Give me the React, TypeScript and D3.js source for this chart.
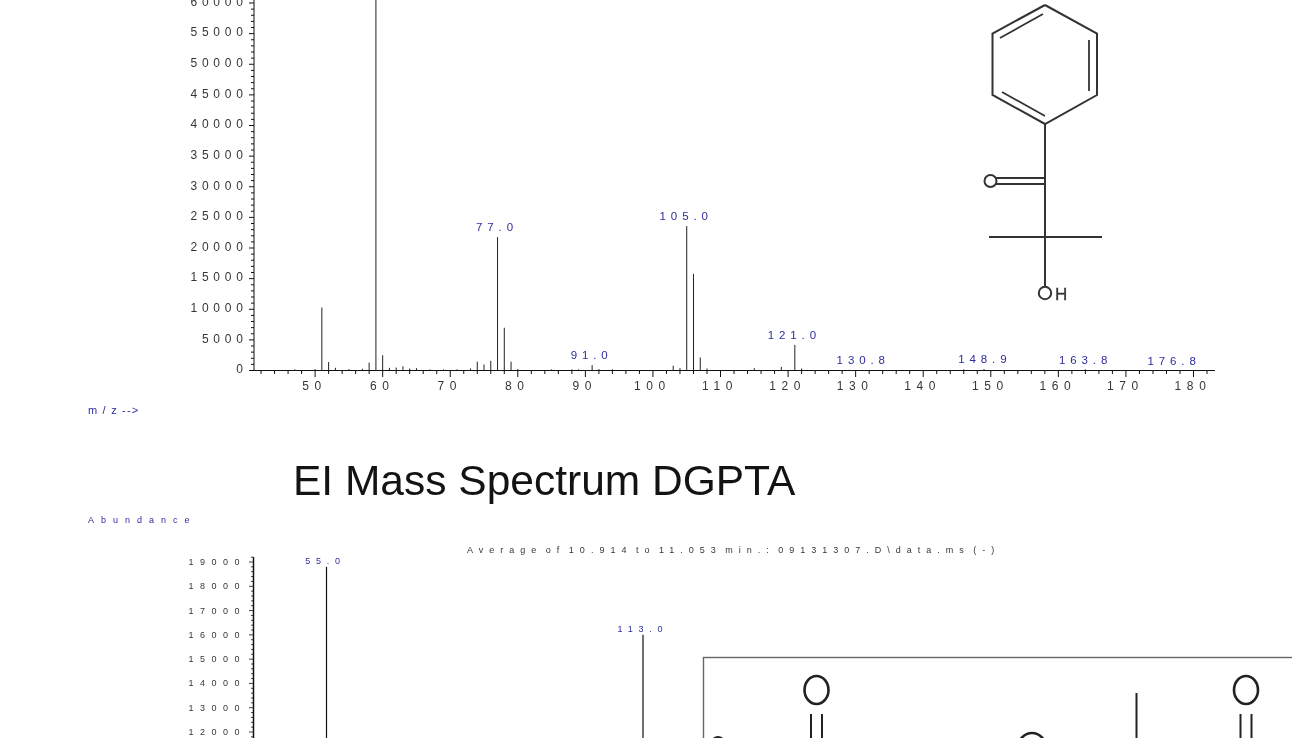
import { useEffect, useRef } from 'react'
import * as d3 from 'd3'

// top spectrum (m/z, abundance)
const topMz = [47, 50, 51, 52, 53, 55, 57, 58, 59, 60, 61, 62, 63, 64, 65, 67, 69, 71, 73, 74, 75, 76, 77, 78, 79, 80, 85, 88, 89, 91, 92, 94, 103, 104, 105, 106, 107, 108, 115, 119, 121, 122, 146, 149, 164]
const topAbundance = [100, 150, 10200, 1300, 350, 150, 200, 1200, 62000, 2400, 350, 400, 600, 250, 300, 100, 100, 100, 250, 1350, 900, 1500, 21700, 6900, 1350, 150, 100, 100, 100, 800, 150, 100, 700, 300, 23500, 15700, 2050, 250, 300, 500, 4100, 250, 100, 150, 100]
const topPeakLabels = ['77.0', '105.0', '91.0', '121.0', '130.8', '148.9', '163.8', '176.8']
const topPeakMz = [77, 105, 91, 121, 131.2, 149.2, 164.1, 177.2]
const topPeakLevel = [21700, 23500, 800, 4100, 0, 150, 0, -100]
const topYTicks = d3.range(0, 60001, 5000)
const topXTicks = d3.range(50, 181, 10)

// bottom spectrum, only the part above the page edge is visible
const bottomMz = [55, 113]
const bottomAbundance = [18800, 16000]
const bottomPeakLabels = ['55.0', '113.0']
const bottomYTicks = d3.range(12000, 19001, 1000)

const navy = '#2a2a9c'
const grey = '#333'
const font = '"Liberation Sans", Arial, sans-serif'

const App = () => {
  const svgRef = useRef<SVGSVGElement>(null)

  useEffect(() => {
    const svg = d3.select(svgRef.current)
    svg.selectAll('*').remove()

    const addText = (x: number, y: number, t: string, size: number, spacing: number, fill: string, anchor = 'start') =>
      svg.append('text')
        .attr('x', x).attr('y', y)
        .attr('text-anchor', anchor)
        .attr('font-family', font)
        .attr('font-size', size)
        .attr('letter-spacing', spacing)
        .attr('fill', fill)
        .attr('opacity', 0.99)
        .text(t)

    const line = (x1: number, y1: number, x2: number, y2: number, w = 1, color = '#111', parent: any = svg) =>
      parent.append('line')
        .attr('x1', x1).attr('y1', y1).attr('x2', x2).attr('y2', y2)
        .attr('stroke', color).attr('stroke-width', w)

    // --- top spectrum ---
    const x = d3.scaleLinear().domain([50, 180]).range([314.6, 1193])
    const y = d3.scaleLinear().domain([0, 60000]).range([370, 2.5])

    line(254, 0, 254, 370.5)
    line(254, 370.5, 1215, 370.5)

    d3.range(0, 62000, 1000).forEach((v) => {
      line(v % 5000 === 0 ? 249 : 251, y(v) + 0.5, 254, y(v) + 0.5)
    })
    d3.range(42, 184, 2).forEach((m) => {
      line(x(m) + 0.5, 370, x(m) + 0.5, m % 10 === 0 ? 377 : 374)
    })

    topYTicks.forEach((v) => {
      addText(247.8, y(v) + 3.3, String(v), 12, 4.8, grey, 'end')
    })
    topXTicks.forEach((m) => {
      addText(x(m), 389.5, String(m), 12, 5.6, grey, 'middle')
    })

    topMz.forEach((m, i) => {
      line(x(m) + 0.5, y(Math.min(topAbundance[i], 62000)), x(m) + 0.5, 370, 1, '#222')
    })

    topPeakLabels.forEach((t, i) => {
      addText(x(topPeakMz[i]), y(topPeakLevel[i]) - 6, t, 11.5, 4.9, navy, 'middle')
    })

    addText(88, 414, 'm / z -->', 11, 1.2, navy)

    // --- title ---
    addText(293, 494.5, 'EI Mass Spectrum DGPTA', 42.5, 0, '#111')

    // --- bottom spectrum ---
    addText(88, 523, 'Abundance', 9, 7, navy)
    addText(467, 553, 'Average of 10.914 to 11.053 min.: 09131307.D\\data.ms (-)', 9, 6, '#333')
      .attr('word-spacing', -5)

    const bx = d3.scaleLinear().domain([55, 113]).range([326.5, 643])
    const by = d3.scaleLinear().domain([12000, 19000]).range([732, 562])

    line(253.5, 557, 253.5, 738, 1.5)
    d3.range(11000, 19300, 200).forEach((v) => {
      line(v % 1000 === 0 ? 249 : 251, by(v), 253, by(v), 0.8)
    })
    bottomYTicks.forEach((v) => {
      addText(246, by(v) + 3, String(v), 9, 6.5, grey, 'end')
    })
    bottomMz.forEach((m, i) => {
      line(bx(m), by(bottomAbundance[i]), bx(m), 738, 1.2)
      addText(bx(m) - (i === 0 ? 1 : 0), by(bottomAbundance[i]) - 3, bottomPeakLabels[i], 9, 5.8, navy, 'middle')
    })

    // --- structure sketch, top right ---
    const bond = '#333'
    const hexagon = [[1045, 5], [1097, 33.5], [1097, 95], [1045, 124], [992.5, 95], [992.5, 33.5], [1045, 5]]
    svg.append('path')
      .attr('d', d3.line()(hexagon as [number, number][]))
      .attr('fill', 'none').attr('stroke', bond).attr('stroke-width', 2)
    line(1000, 38, 1043, 14, 1.8, bond)
    line(1089, 40, 1089, 91, 1.8, bond)
    line(1002, 92, 1045, 116, 1.8, bond)
    line(1045, 124, 1045, 287, 2, bond)
    line(996, 178, 1045, 178, 2, bond)
    line(996, 184, 1045, 184, 2, bond)
    line(989, 237, 1102, 237, 2, bond)
    svg.append('circle').attr('cx', 990.5).attr('cy', 181).attr('r', 6)
      .attr('fill', 'none').attr('stroke', bond).attr('stroke-width', 2)
    svg.append('circle').attr('cx', 1045).attr('cy', 293).attr('r', 6.2)
      .attr('fill', 'none').attr('stroke', bond).attr('stroke-width', 2)
    addText(1055, 299.5, 'H', 17, 0, bond).attr('stroke', bond).attr('stroke-width', 0.3)

    // --- scanned structure, bottom right ---
    const defs = svg.append('defs')
    defs.append('filter').attr('id', 'scan').append('feGaussianBlur').attr('stdDeviation', 0.6)
    svg.append('rect').attr('x', 703.5).attr('y', 657.5).attr('width', 600).attr('height', 100)
      .attr('fill', '#fff').attr('stroke', '#666').attr('stroke-width', 1.4)
    const frame = svg.append('g').attr('filter', 'url(#scan)')
    const ink = '#222'
    ;[816.5, 1246].forEach((cx) => {
      frame.append('ellipse').attr('cx', cx).attr('cy', 690).attr('rx', 12).attr('ry', 14)
        .attr('fill', 'none').attr('stroke', ink).attr('stroke-width', 2.6)
      line(cx - 5.5, 714, cx - 5.5, 738, 2, ink, frame)
      line(cx + 5.5, 714, cx + 5.5, 738, 2, ink, frame)
    })
    line(1136.5, 693, 1136.5, 738, 2, ink, frame)
    frame.append('ellipse').attr('cx', 1032).attr('cy', 748).attr('rx', 14).attr('ry', 15)
      .attr('fill', 'none').attr('stroke', ink).attr('stroke-width', 2.6)
    frame.append('ellipse').attr('cx', 718).attr('cy', 742).attr('rx', 6).attr('ry', 5)
      .attr('fill', 'none').attr('stroke', ink).attr('stroke-width', 2)
  }, [])

  return (
    <svg
      ref={svgRef}
      width={1292}
      height={738}
      style={{ position: 'absolute', left: 0, top: 0, background: '#fff' }}
    />
  )
}

export default App
